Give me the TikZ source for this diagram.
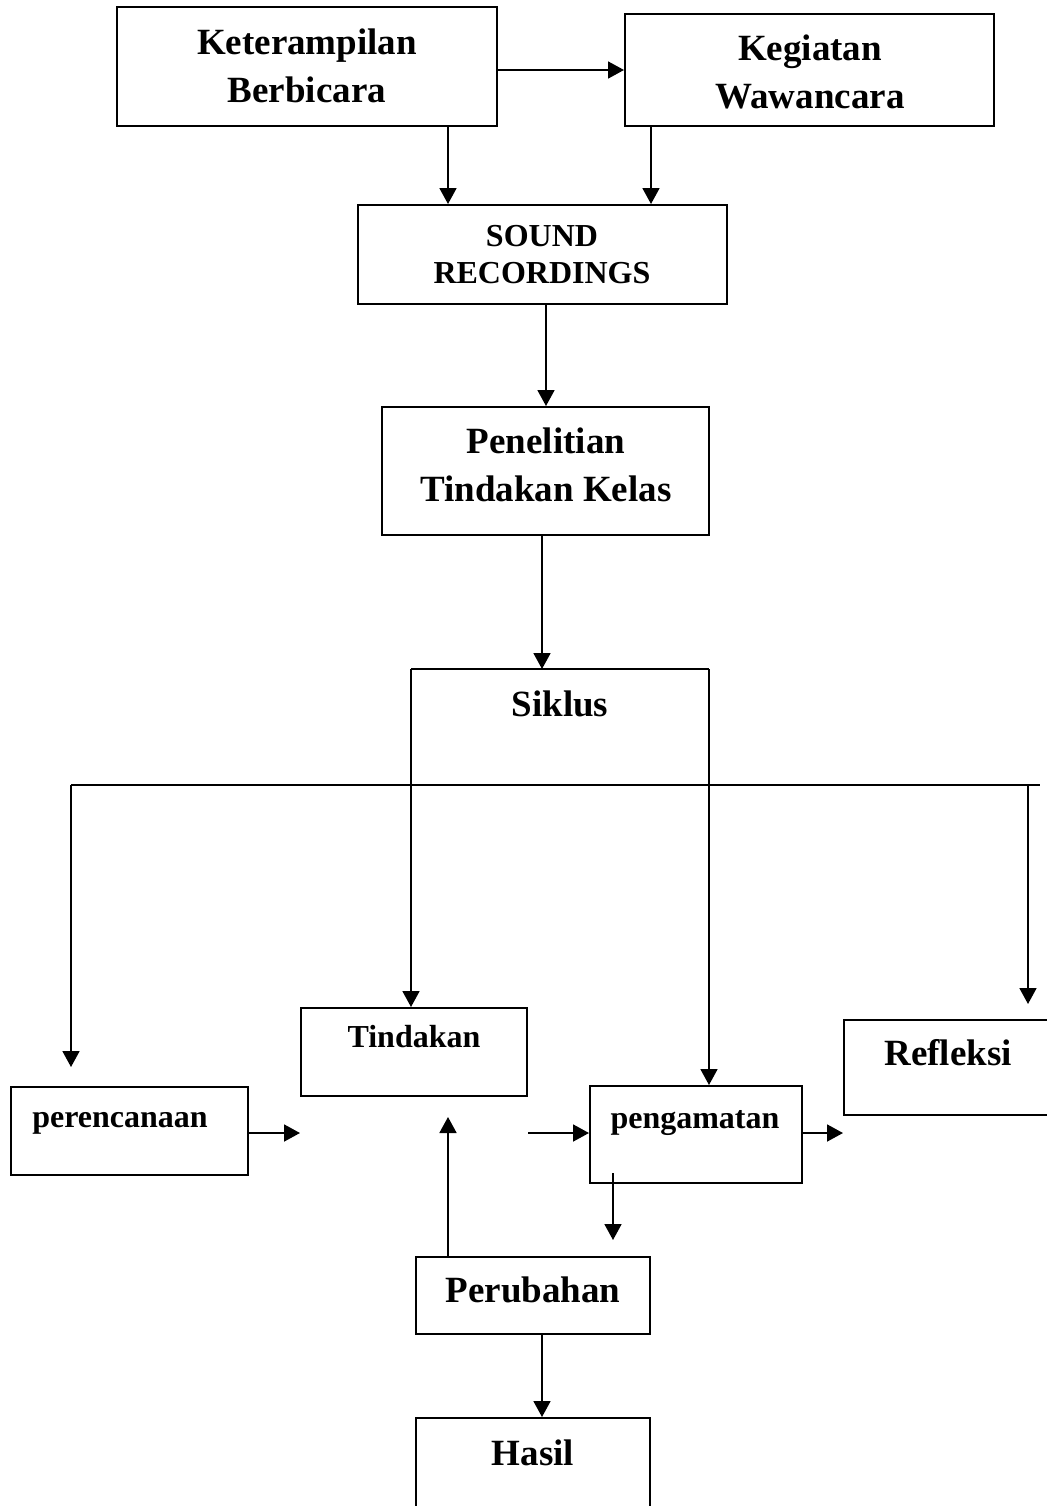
\documentclass[tikz,border=0pt]{standalone}
\usepackage{fontspec}
\setmainfont{Liberation Serif}
\usetikzlibrary{arrows.meta,calc}

\tikzset{
    box/.style={draw, line width=1pt, inner sep=0pt},
    big/.style={font=\fontsize{18.5}{24}\selectfont\bfseries, align=center, inner sep=0pt},
    small/.style={font=\fontsize{16}{18.5}\selectfont\bfseries, align=center, inner sep=0pt},
    arr/.style={line width=0.9pt, -{Triangle[length=8pt,width=8.5pt]}},
    line/.style={line width=0.9pt}
}

\begin{document}
\begin{tikzpicture}[x=0.5pt,y=-0.5pt]
    \clip (0,0) rectangle (1047,1506);
    \useasboundingbox (0,0) rectangle (1047,1506);

    % boxes
    \node [box, minimum width=190pt, minimum height=59.5pt] (ket) at (307,66.5) {};
    \node [box, minimum width=184.5pt, minimum height=56pt] (keg) at (809.5,70) {};
    \node [box, minimum width=184.5pt, minimum height=49.5pt] (sound) at (542.5,254.5) {};
    \node [box, minimum width=163.5pt, minimum height=64pt] (pen) at (545.5,471) {};
    \node [box, minimum width=113pt, minimum height=44pt] (tind) at (414,1052) {};
    \node [box, minimum width=118.5pt, minimum height=44pt] (peren) at (129.5,1131) {};
    \node [box, minimum width=106pt, minimum height=48.5pt] (peng) at (696,1134.5) {};
    \node [box, minimum width=110pt, minimum height=47.5pt] (refl) at (954,1067.5) {};
    \node [box, minimum width=117pt, minimum height=38.5pt] (perub) at (533,1295.5) {};
    \node [box, minimum width=117pt, minimum height=50pt] (hasil) at (533,1468) {};

    % texts
    \node [big] (ket-t) at (307,66) {Keterampilan\\Berbicara};
    \node [big] (keg-t) at (810,72) {Kegiatan\\Wawancara};
    \node [small] (sound-t) at (542,255) {SOUND\\RECORDINGS};
    \node [big] (pen-t) at (546,465) {Penelitian\\Tindakan Kelas};
    \node [big] (sik-t) at (560,704) {Siklus};
    \node [small] (tind-t) at (414,1037) {Tindakan};
    \node [small] (peren-t) at (120,1123) {perencanaan};
    \node [small] (peng-t) at (695,1123) {pengamatan};
    \node [big] (refl-t) at (948,1053) {Refleksi};
    \node [big] (perub-t) at (533,1290) {Perubahan};
    \node [big] (hasil-t) at (533,1453) {Hasil};

    % siklus frame and branch line
    \coordinate (sik-nw) at (411,669);
    \coordinate (sik-ne) at (709,669);
    \coordinate (br-w) at (71,785);
    \coordinate (br-e) at (1040,785);
    \draw [line] (sik-nw) -- (sik-ne);
    \draw [line] (br-w) -- (br-e);

    % connectors
    \draw [arr] (ket.east |- keg.west) -- (keg.west);
    \draw [arr] (448,0 |- ket.south) -- (448,0 |- sound.north);
    \draw [arr] (651,0 |- keg.south) -- (651,0 |- sound.north);
    \draw [arr] (546,0 |- sound.south) -- (546,0 |- pen.north);
    \draw [arr] (542,0 |- pen.south) -- (542,0 |- sik-nw);
    \draw [arr] (sik-nw) -- (sik-nw |- tind.north);
    \draw [arr] (sik-ne) -- (sik-ne |- peng.north);
    \draw [arr] (br-w) -- ($(br-w |- peren.north)+(0,-19)$);
    \draw [arr] (1028,0 |- br-e) -- ($(1028,0 |- refl.north)+(0,-15)$);
    \draw [arr] (peren.east |- 0,1133) -- (tind.west |- 0,1133);
    \draw [arr] (tind.east |- 0,1133) -- (peng.west |- 0,1133);
    \draw [arr] (peng.east |- 0,1133) -- (refl.west |- 0,1133);
    \draw [arr] ($(613,0 |- peng.south)+(0,-11)$) -- (613,1240);
    \draw [arr] (448,0 |- perub.north) -- (448,1117);
    \draw [arr] (542,0 |- perub.south) -- (542,0 |- hasil.north);
\end{tikzpicture}
\end{document}
